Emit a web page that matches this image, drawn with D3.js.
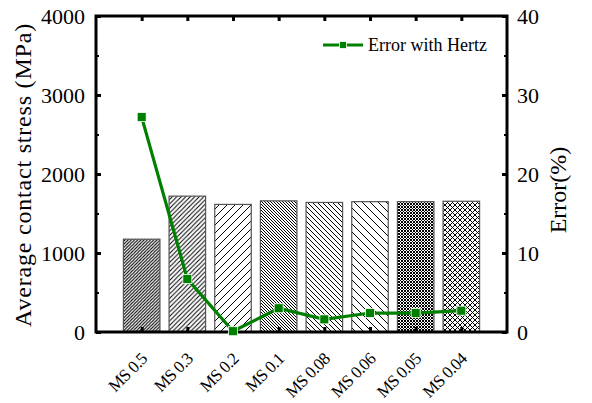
<!DOCTYPE html>
<html>
<head>
<meta charset="utf-8">
<script src="https://cdn.jsdelivr.net/npm/d3@7/dist/d3.min.js"></script>
<style>
html,body{margin:0;padding:0;background:#fff;}
svg{display:block;}
</style>
</head>
<body>
<svg id="chart" width="592" height="403"></svg>
<script>
const categories = ["MS 0.5","MS 0.3","MS 0.2","MS 0.1","MS 0.08","MS 0.06","MS 0.05","MS 0.04"];
const stressValues = [1175, 1720, 1615, 1660, 1640, 1650, 1650, 1655];
const errorValues = [27.2, 6.7, 0.1, 3.0, 1.6, 2.4, 2.4, 2.7];
const leftTicks = [0, 1000, 2000, 3000, 4000];
const rightTicks = [0, 10, 20, 30, 40];
const hatchKinds = [
  {dir:"fwd", s:3.2}, {dir:"fwd", s:4.5}, {dir:"fwd", s:8},
  {dir:"back", s:3}, {dir:"back", s:5}, {dir:"back", s:8},
  {dir:"cross", s:3}, {dir:"cross", s:5}
];

const SERIF = "Liberation Serif";
const svg = d3.select("#chart").attr("font-family", SERIF);
const L = 96, R = 507, T = 16, B = 332;
const step = (R - L) / 9;
const x = d3.scalePoint().domain(categories).range([L + step, R - step]);
const y = d3.scaleLinear().domain([0, 4000]).range([B, T]);
const y2 = d3.scaleLinear().domain([0, 40]).range([B, T]);

// patterns
const defs = svg.append("defs");
hatchKinds.forEach((h, i) => {
  const s = h.s;
  const p = defs.append("pattern").attr("id", "hatch" + i)
    .attr("patternUnits", "userSpaceOnUse").attr("width", s).attr("height", s);
  p.append("rect").attr("width", s).attr("height", s).attr("fill", "#fff");
  const fwd = `M-1,1 L1,-1 M0,${s} L${s},0 M${s-1},${s+1} L${s+1},${s-1}`;
  const back = `M-1,${s-1} L1,${s+1} M0,0 L${s},${s} M${s-1},-1 L${s+1},1`;
  let d = h.dir === "fwd" ? fwd : h.dir === "back" ? back : fwd + " " + back;
  p.append("path").attr("d", d).attr("stroke", "#000").attr("stroke-width", 1).attr("fill", "none");
});

// bars
const bw = step * 0.8;
svg.append("g").selectAll("rect").data(stressValues).join("rect")
  .attr("x", (d, i) => x(categories[i]) - bw / 2)
  .attr("y", d => y(d))
  .attr("width", bw)
  .attr("height", d => B - y(d))
  .attr("fill", (d, i) => `url(#hatch${i})`)
  .attr("stroke", "#555").attr("stroke-width", 1.2);

// axes
const axisG = svg.append("g");

// left
const leftAxis = d3.axisLeft(y).tickValues(leftTicks).tickSize(-5).tickPadding(11).tickFormat(d3.format("d"));
const gl = axisG.append("g").attr("transform", `translate(${L},0)`).call(leftAxis)
  .attr("font-family", SERIF).attr("font-size", 22);
gl.selectAll("text").attr("fill", "#000");
gl.select(".domain").remove();
gl.selectAll(".tick line").attr("stroke-width", 3);
const leftMinor = d3.axisLeft(y).tickValues([500,1500,2500,3500]).tickSize(-3).tickFormat("");
const glm = axisG.append("g").attr("transform", `translate(${L},0)`).call(leftMinor);
glm.select(".domain").remove(); glm.selectAll(".tick line").attr("stroke-width", 2);

// right
const rightAxis = d3.axisRight(y2).tickValues(rightTicks).tickSize(-5).tickPadding(10).tickFormat(d3.format("d"));
const gr = axisG.append("g").attr("transform", `translate(${R},0)`).call(rightAxis)
  .attr("font-family", SERIF).attr("font-size", 22);
gr.selectAll("text").attr("fill", "#000");
gr.select(".domain").remove();
gr.selectAll(".tick line").attr("stroke-width", 3);
const rightMinor = d3.axisRight(y2).tickValues([5,15,25,35]).tickSize(-3).tickFormat("");
const grm = axisG.append("g").attr("transform", `translate(${R},0)`).call(rightMinor);
grm.select(".domain").remove(); grm.selectAll(".tick line").attr("stroke-width", 2);

// bottom
const bottomAxis = d3.axisBottom(x).tickSize(-5);
const gb = axisG.append("g").attr("transform", `translate(0,${B})`).call(bottomAxis)
  .attr("font-family", SERIF).attr("font-size", 17);
gb.select(".domain").remove();
gb.selectAll(".tick line").attr("stroke-width", 3);
gb.selectAll("text").attr("fill", "#000")
  .attr("text-anchor", "end")
  .attr("letter-spacing", "-0.6")
  .attr("x", 0).attr("y", 0).attr("dy", 0)
  .attr("transform", "translate(6,28) rotate(-45)");

// top
const topAxis = d3.axisTop(x).tickSize(-5).tickFormat("");
const gt = axisG.append("g").attr("transform", `translate(0,${T})`).call(topAxis);
gt.select(".domain").remove();
gt.selectAll(".tick line").attr("stroke-width", 3);

// frame
svg.append("rect").attr("x", L).attr("y", T).attr("width", R - L).attr("height", B - T)
  .attr("fill", "none").attr("stroke", "#000").attr("stroke-width", 3);

// error line
const line = d3.line().x((d, i) => x(categories[i])).y(d => y2(d));
svg.append("path").datum(errorValues).attr("d", line)
  .attr("fill", "none").attr("stroke", "#008000").attr("stroke-width", 3.2);
svg.append("g").selectAll("rect").data(errorValues).join("rect")
  .attr("x", (d, i) => x(categories[i]) - 4.5)
  .attr("y", d => y2(d) - 4.5)
  .attr("width", 9).attr("height", 9)
  .attr("fill", "#008000").attr("stroke", "#fff").attr("stroke-width", 0.8);

// legend
const lg = svg.append("g");
lg.append("line").attr("x1", 323).attr("x2", 363).attr("y1", 45).attr("y2", 45)
  .attr("stroke", "#008000").attr("stroke-width", 3.2);
lg.append("rect").attr("x", 339.5).attr("y", 41.5).attr("width", 7).attr("height", 7)
  .attr("fill", "#008000").attr("stroke", "#fff").attr("stroke-width", 0.8);
lg.append("text").attr("x", 368).attr("y", 51).attr("font-size", 18).attr("font-family", SERIF)
  .text("Error with Hertz");

// titles
svg.append("text").attr("transform", "translate(31,175) rotate(-90)").attr("font-family", SERIF)
  .attr("text-anchor", "middle").attr("font-size", 24).attr("letter-spacing", 0.8)
  .text("Average contact stress (MPa)");
svg.append("text").attr("transform", "translate(566,190) rotate(-90)").attr("font-family", SERIF)
  .attr("text-anchor", "middle").attr("font-size", 24).text("Error(%)");
</script>
</body>
</html>
